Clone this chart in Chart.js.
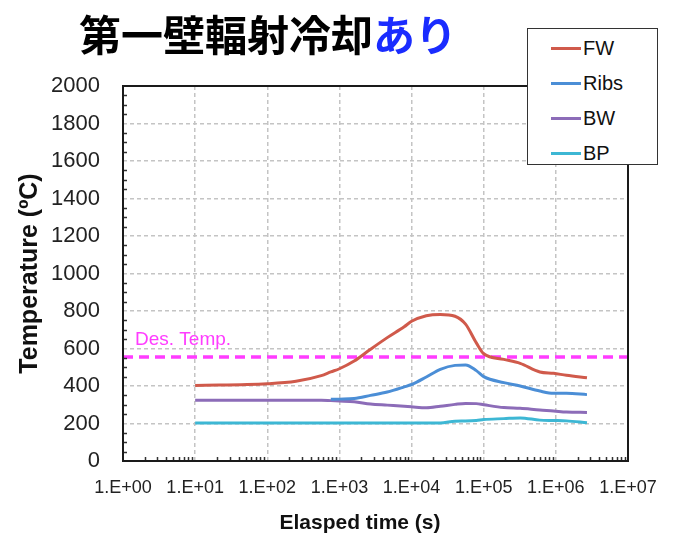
<!DOCTYPE html>
<html>
<head>
<meta charset="utf-8">
<script src="https://cdn.jsdelivr.net/npm/chart.js@4.4.1/dist/chart.umd.min.js"></script>
<style>
  body { margin: 0; background: #fff; }
  #wrap { position: relative; width: 677px; height: 535px; font-family: "Liberation Sans", Arial, sans-serif; }
  #title { position: absolute; left: 79px; top: 12px; font: bold 42px/42px "Noto Sans CJK JP", sans-serif; color: #000; white-space: nowrap; }
  #title .blue { color: #1a2cff; }
  #xtitle { position: absolute; left: 260px; width: 200px; top: 510px; text-align: center; font: bold 21px/24px "Liberation Sans", Arial, sans-serif; color: #111; }
  #legend { position: absolute; left: 527px; top: 28px; width: 129px; height: 135px; border: 1.5px solid #333; background: #fff; }
  .item { position: absolute; left: 23px; height: 24px; font-size: 20px; line-height: 24px; color: #111; }
  .item span { display: inline-block; width: 30px; height: 3px; vertical-align: middle; margin-right: 2px; position: relative; top: -1px; }
</style>
</head>
<body>
<div id="wrap">
  <canvas id="chart" width="677" height="535"></canvas>
  <div id="title">第一壁輻射冷却<span class="blue">あり</span></div>
  <div id="xtitle">Elasped time (s)</div>
  <div id="legend"></div>
</div>
<script>
// elapsed time (s), shared by all series
const times = [10, 100, 250, 560, 760, 1000, 1600, 2700, 4600, 7900, 1.0e4, 1.6e4, 2.5e4, 4.0e4, 5.6e4, 7.9e4, 1.0e5, 1.9e5, 3.2e5, 6.0e5, 9.3e5, 1.4e6, 2.7e6]
const fw   = [403, 412, 425, 455, 475, 492, 533, 596, 658, 716, 745, 775, 782, 772, 730, 630, 572, 542, 521, 475, 468, 457, 444]
const ribs = [null, null, null, null, 329, 330, 333, 350, 368, 395, 408, 448, 489, 510, 512, 482, 450, 418, 400, 373, 361, 361, 354]
const bw   = [324, 324, 324, 324, 322, 320, 316, 304, 298, 292, 289, 284, 292, 302, 307, 306, 300, 285, 281, 272, 267, 261, 259]
const bp   = [203, 203, 203, 203, 203, 203, 203, 203, 203, 203, 203, 203, 203, 212, 213, 216, 221, 226, 230, 218, 216, 214, 204]
const desTemp = 555
const xTicks = [1, 1e1, 1e2, 1e3, 1e4, 1e5, 1e6, 1e7]
const xTickLabels = ['1.E+00', '1.E+01', '1.E+02', '1.E+03', '1.E+04', '1.E+05', '1.E+06', '1.E+07']
const yMax = 2000
const yStep = 200

const series = [
  { label: 'FW', data: fw, color: '#d05a4b' },
  { label: 'Ribs', data: ribs, color: '#4b8ed6' },
  { label: 'BW', data: bw, color: '#8c6cb8' },
  { label: 'BP', data: bp, color: '#3db7d4' }
]

const toPoints = vals => times.map((t, i) => ({ x: t, y: vals[i] })).filter(p => p.y !== null)

// legend box (html)
const legend = document.getElementById('legend')
series.forEach((s, i) => {
  const d = document.createElement('div')
  d.className = 'item'
  d.style.top = (7 + i * 35) + 'px'
  d.innerHTML = '<span style="background:' + s.color + '"></span>' + s.label
  legend.appendChild(d)
})

// frame, minor ticks and design temperature label
const extras = {
  id: 'extras',
  afterDatasetsDraw(chart) {
    const { ctx, chartArea: a, scales: { x, y } } = chart
    ctx.save()
    ctx.strokeStyle = '#333'
    ctx.lineWidth = 1.5
    ctx.beginPath()
    for (let v = 50; v < yMax; v += 50) {
      if (v % yStep === 0) continue
      const py = Math.round(y.getPixelForValue(v)) + 0.5
      ctx.moveTo(a.left, py)
      ctx.lineTo(a.left + 4, py)
    }
    for (let d = 0; d < 7; d++) {
      for (let k = 2; k < 10; k++) {
        const px = Math.round(x.getPixelForValue(k * Math.pow(10, d))) + 0.5
        ctx.moveTo(px, a.bottom)
        ctx.lineTo(px, a.bottom - 4)
      }
    }
    ctx.stroke()

    ctx.strokeStyle = '#1a1a1a'
    ctx.lineWidth = 2
    ctx.strokeRect(a.left, a.top, a.right - a.left, a.bottom - a.top)

    ctx.fillStyle = '#ff3cff'
    ctx.font = '19px "Liberation Sans", Arial, sans-serif'
    ctx.textBaseline = 'middle'
    ctx.fillText('Des. Temp.', a.left + 12, y.getPixelForValue(desTemp) - 17)
    ctx.restore()
  }
}

const datasets = series.map(s => ({
  label: s.label,
  data: toPoints(s.data),
  borderColor: s.color,
  borderWidth: 3,
  pointRadius: 0,
  cubicInterpolationMode: 'monotone',
  fill: false
}))
datasets.push({
  label: 'Des. Temp.',
  data: [{ x: 1, y: desTemp }, { x: 1e7, y: desTemp }],
  borderColor: '#ff3cff',
  borderWidth: 3.5,
  borderDash: [10, 6],
  pointRadius: 0,
  fill: false
})

new Chart(document.getElementById('chart'), {
  type: 'line',
  data: { datasets },
  options: {
    responsive: false,
    animation: false,
    devicePixelRatio: 1,
    layout: { padding: { top: 86, right: 49, left: 0, bottom: 0 } },
    plugins: { legend: { display: false }, tooltip: { enabled: false } },
    scales: {
      x: {
        type: 'logarithmic',
        min: 1,
        max: 1e7,
        afterBuildTicks: s => { s.ticks = xTicks.map(v => ({ value: v })) },
        afterFit: s => { s.height = 74 },
        ticks: {
          autoSkip: false,
          maxRotation: 0,
          padding: 16,
          color: '#222',
          font: { family: '"Liberation Sans", Arial, sans-serif', size: 18 },
          callback: (v) => xTickLabels[xTicks.indexOf(v)]
        },
        grid: { color: '#c4c4c4', lineWidth: 1.5, drawTicks: false },
        border: { display: false, dash: [4, 3] }
      },
      y: {
        min: 0,
        max: yMax,
        afterFit: s => { s.width = 123 },
        ticks: {
          stepSize: yStep,
          padding: 23,
          color: '#222',
          font: { family: '"Liberation Sans", Arial, sans-serif', size: 22 },
          callback: v => String(v)
        },
        grid: { color: '#c4c4c4', lineWidth: 1.5, drawTicks: false },
        border: { display: false, dash: [4, 3] },
        title: {
          display: true,
          text: 'Temperature (ºC)',
          color: '#111',
          padding: { top: 15, bottom: 0 },
          font: { family: '"Liberation Sans", Arial, sans-serif', size: 25, weight: 'bold' }
        }
      }
    }
  },
  plugins: [extras]
})
</script>
</body>
</html>
